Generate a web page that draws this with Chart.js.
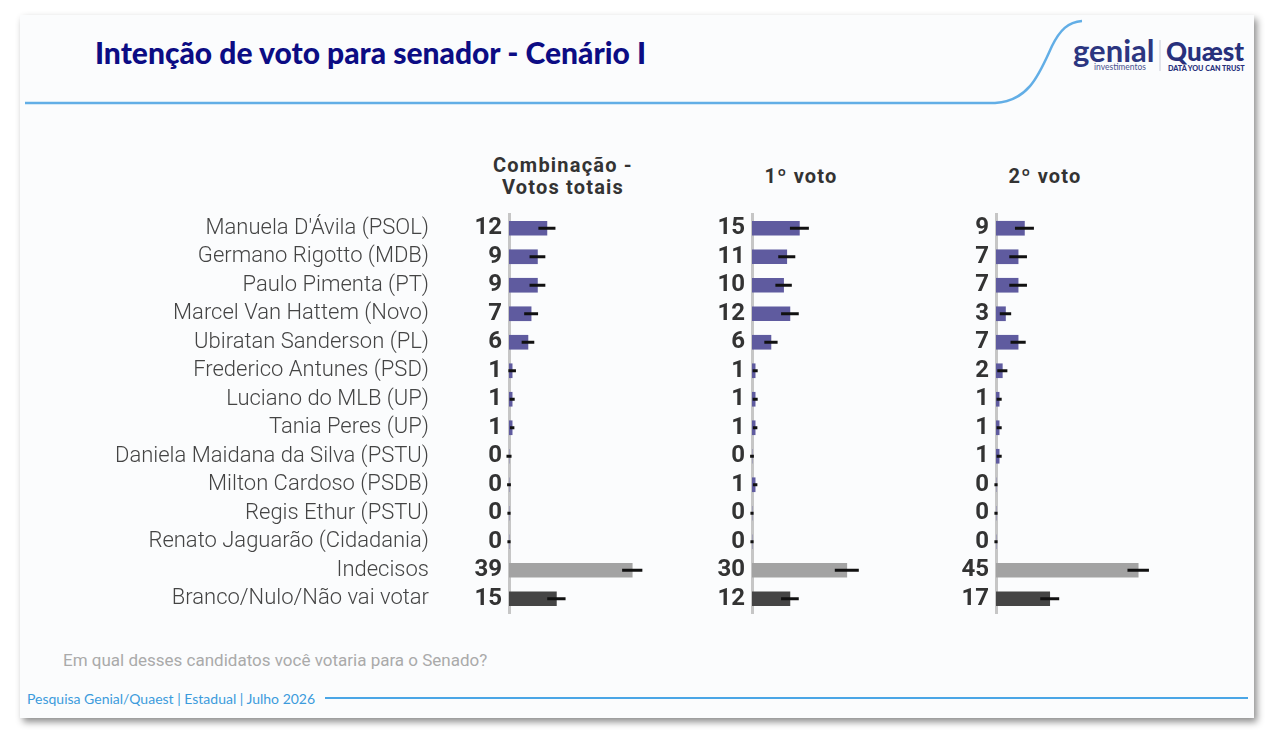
<!DOCTYPE html>
<html>
<head>
<meta charset="utf-8">
<script src="https://cdn.jsdelivr.net/npm/chart.js@4.4.1/dist/chart.umd.min.js"></script>
<style>
  body { margin: 0; width: 1274px; height: 740px; background: #fff; position: relative; overflow: hidden; font-family: Roboto, sans-serif; }
  #card { position: absolute; left: 20px; top: 15px; width: 1234px; height: 703px; background: #fbfcfd; box-shadow: 3px 4px 7px rgba(0,0,0,.45); }
  .abs { position: absolute; }
  #title { left: 95px; top: 34px; font: 900 30px Lato, sans-serif; color: #0c0c84; white-space: nowrap; line-height: 36px; }
  .head { font: bold 20px Roboto, sans-serif; letter-spacing: 1.2px; color: #333; text-align: center; width: 220px; line-height: 22px; }
  #question { left: 63px; top: 650px; font: 17px Roboto, sans-serif; color: #aaa; }
  #footer { left: 27px; top: 690px; font: 14px Lato, sans-serif; color: #3b9bdc; }
  canvas { position: absolute; }
</style>
</head>
<body>
<div id="card"></div>
<svg class="abs" style="left:0;top:0" width="1274" height="740">
  <path d="M25 103 L995 103 C1030 101 1040 72 1052 46 C1060 30 1068 22 1082 21" fill="none" stroke="#62aee6" stroke-width="2.5"/>
  <line x1="325" y1="698" x2="1248" y2="698" stroke="#4aa6e6" stroke-width="2"/>
  <line x1="1160" y1="40" x2="1160" y2="71" stroke="#c9ccd8" stroke-width="1"/>
  <text x="1073" y="62" font-family="Lato" font-weight="700" font-size="31" fill="#2c3680">genial</text>
  <text x="1094" y="70" font-family="Lato" font-size="8.5" fill="#4a5290">investimentos</text>
  <text x="1166" y="61" font-family="Lato" font-weight="900" font-size="26" fill="#27307c">Quæst</text>
  <text x="1168" y="71" font-family="Lato" font-weight="900" font-size="7.2" fill="#27307c">DATA YOU CAN TRUST</text>
</svg>
<div id="title" class="abs">Intenção de voto para senador - Cenário I</div>
<div class="abs head" style="left:453px;top:154px">Combinação -<br>Votos totais</div>
<div class="abs head" style="left:691px;top:165px">1º voto</div>
<div class="abs head" style="left:935px;top:165px">2º voto</div>
<div id="question" class="abs">Em qual desses candidatos você votaria para o Senado?</div>
<div id="footer" class="abs">Pesquisa Genial/Quaest | Estadual | Julho 2026</div>

<canvas id="c1" width="667" height="444" style="left:0;top:192px"></canvas>
<canvas id="c2" width="197" height="444" style="left:713px;top:192px"></canvas>
<canvas id="c3" width="197" height="444" style="left:957px;top:192px"></canvas>

<script>
const candidates = [
  'Manuela D\'Ávila (PSOL)', 'Germano Rigotto (MDB)', 'Paulo Pimenta (PT)',
  'Marcel Van Hattem (Novo)', 'Ubiratan Sanderson (PL)', 'Frederico Antunes (PSD)',
  'Luciano do MLB (UP)', 'Tania Peres (UP)', 'Daniela Maidana da Silva (PSTU)',
  'Milton Cardoso (PSDB)', 'Regis Ethur (PSTU)', 'Renato Jaguarão (Cidadania)',
  'Indecisos', 'Branco/Nulo/Não vai votar'
];

// votos totais, 1o voto, 2o voto (%)
const totalVotes = [12, 9, 9, 7, 6, 1, 1, 1, 0, 0, 0, 0, 39, 15];
const firstVote  = [15, 11, 10, 12, 6, 1, 1, 1, 0, 1, 0, 0, 30, 12];
const secondVote = [9, 7, 7, 3, 7, 2, 1, 1, 1, 0, 0, 0, 45, 17];

// margem de erro (pontos)
const totalErr  = [2.7, 2.5, 2.5, 2.2, 2.0, 1.2, 0.8, 0.7, 0.8, 0.6, 0.5, 0.5, 3.2, 2.9];
const firstErr  = [3.0, 2.7, 2.6, 2.8, 2.1, 0.8, 0.8, 0.7, 0.6, 0.7, 0.5, 0.5, 3.8, 2.8];
const secondErr = [3.0, 2.8, 2.8, 1.8, 2.4, 1.6, 0.8, 0.8, 0.8, 0.5, 0.5, 0.5, 3.4, 3.0];

const colors = {
    candidate: '#5f5b9f',
    undecided: '#a3a3a3',
    blank: '#454545',
    axis: '#c6c6c6',
    text: '#333333'
};
const barColors = candidates.map((c, i) => i === 12 ? colors.undecided : i === 13 ? colors.blank : colors.candidate);

const errorBars = {
    id: 'errorBars',
    afterDatasetsDraw(chart, args, opts) {
        const { ctx, scales: { x, y } } = chart;
        const vals = chart.data.datasets[0].data;
        ctx.save();
        ctx.strokeStyle = '#111';
        ctx.lineWidth = 3;
        vals.forEach((v, i) => {
            const py = y.getPixelForValue(i);
            ctx.beginPath();
            ctx.moveTo(x.getPixelForValue(v - opts.margins[i]), py);
            ctx.lineTo(x.getPixelForValue(v + opts.margins[i]), py);
            ctx.stroke();
        });
        ctx.restore();
    }
};

function makePanel(id, values, margins, withNames) {
    const scales = {
        x: { min: 0, max: 50, display: false },
        y: {
            weight: 0,
            grid: { display: false, drawTicks: false },
            border: { color: colors.axis, width: 3 },
            ticks: {
                autoSkip: false,
                padding: 7,
                color: colors.text,
                font: { family: 'Roboto', size: 24, weight: 'bold' },
                callback: (v, i) => String(values[i])
            },
            afterFit: s => { s.width = 39; }
        }
    };
    if (withNames) {
        // empty gap between the names and the value labels
        scales.gap = {
            type: 'category',
            position: 'left',
            weight: 1,
            labels: candidates,
            grid: { display: false, drawTicks: false },
            border: { display: false },
            ticks: { display: false },
            afterFit: s => { s.width = 41; }
        };
        scales.yn = {
            type: 'category',
            position: 'left',
            weight: 2,
            labels: candidates,
            grid: { display: false, drawTicks: false },
            border: { display: false },
            ticks: {
                autoSkip: false,
                padding: 0,
                color: '#444',
                font: { family: 'Roboto', size: 22, weight: '300' }
            },
            afterFit: s => { s.width = 429; }
        };
    }
    new Chart(document.getElementById(id), {
        type: 'bar',
        data: {
            labels: candidates,
            datasets: [{
                data: values,
                backgroundColor: barColors,
                barThickness: 14
            }]
        },
        options: {
            indexAxis: 'y',
            responsive: false,
            animation: false,
            layout: { padding: { top: 22, bottom: 23, left: 0, right: 0 } },
            scales,
            plugins: {
                legend: { display: false },
                tooltip: { enabled: false },
                errorBars: { margins }
            }
        },
        plugins: [errorBars]
    });
}

makePanel('c1', totalVotes, totalErr, true);
makePanel('c2', firstVote, firstErr, false);
makePanel('c3', secondVote, secondErr, false);
</script>
</body>
</html>
